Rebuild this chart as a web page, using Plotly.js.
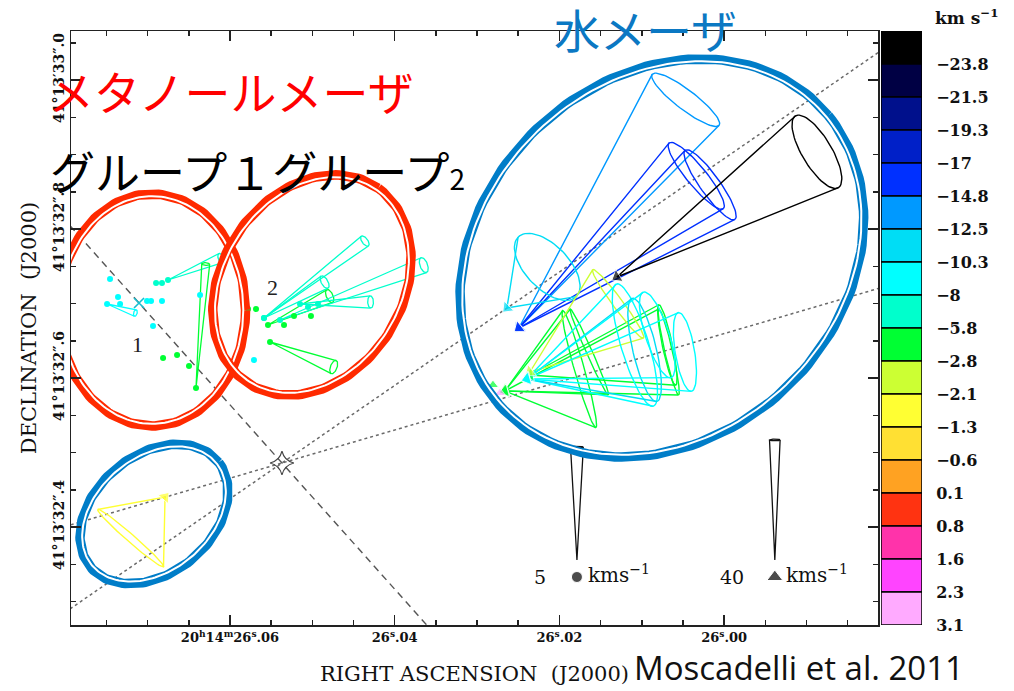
<!DOCTYPE html>
<html>
<head>
<meta charset="utf-8">
<script src="https://cdn.plot.ly/plotly-3.0.1.min.js"></script>
<style>
  html, body { margin: 0; padding: 0; background: #fff; }
  #chart { width: 1014px; height: 691px; }
</style>
</head>
<body>
<div id="chart"></div>
<script>
// ---- LSR velocity bins (km/s): lower edge label of each colour band, top band first ----
const vlsrEdges  = [-23.8, -21.5, -19.3, -17, -14.8, -12.5, -10.3, -8, -5.8, -2.8, -2.1, -1.3, -0.6, 0.1, 0.8, 1.6, 2.3, 3.1];
const vlsrLabels = ['−23.8', '−21.5', '−19.3', '−17', '−14.8', '−12.5', '−10.3', '−8', '−5.8', '−2.8', '−2.1', '−1.3', '−0.6', '0.1', '0.8', '1.6', '2.3', '3.1'];
const vlsrColors = ['#000000', '#000044', '#00108c', '#0020c8', '#0030ff', '#0099ff', '#00ddf5', '#00ffff', '#00ffcc', '#00ff33',
                    '#ccff33', '#ffff33', '#ffe033', '#ffa222', '#ff3311', '#ff33aa', '#ff44ff', '#ffaaff'];

// ---- axis ticks ----
const raTicks   = [26.06, 26.04, 26.02, 26.00];
const raLabels  = ['20<sup>h</sup>14<sup>m</sup>26<sup>s</sup>.06', '26<sup>s</sup>.04', '26<sup>s</sup>.02', '26<sup>s</sup>.00'];
const decTicks  = [32.4, 32.6, 32.8, 33.0];
const decLabels = ['41°13′32″.4', '41°13′32″.6', '41°13′32″.8', '41°13′33″.0'];

// ---- CH3OH maser spots: RA (s, 20h14m), Dec (arcsec, +41°13'), Vlsr, proper motion (km/s), cone base radius / depth (km/s) ----
const chRA   = [26.07457, 26.07360, 26.07493, 26.07335, 26.07008, 26.06959, 26.06826, 26.06935, 26.06898, 26.06826, 26.06753, 26.06364,
                26.06813, 26.06643, 26.06498, 26.06413,
                26.05781, 26.05684, 26.05539, 26.05344, 26.05223, 26.05017, 26.05514, 26.05587, 26.05587, 26.05393, 26.05150, 26.05053, 26.04932, 26.05709];
const chDec  = [32.73288, 32.70872, 32.69933, 32.69933, 32.70335, 32.70335, 32.70335, 32.66980, 32.72752, 32.72752, 32.73154, 32.71141,
                32.62684, 32.63087, 32.61610, 32.58657,
                32.69262, 32.69262, 32.67114, 32.67114, 32.68322, 32.68322, 32.64832, 32.68054, 32.68054, 32.67785, 32.69933, 32.69530, 32.69933, 32.62416];
const chVlsr = [-8.6, -8.6, -8.9, -8.7, -8.4, -8.4, -8.5, -8.8, -7.2, -7.2, -7.1, -8.5,
                -4.2, -4.4, -4.1, -3.9,
                -4.5, -4.3, -4.0, -4.6, -4.2, -4.4, -3.8, -7.0, -6.9, -6.8, -7.1, -7.3, -7.0, -8.6];
const chVE   = [0, 0, -1.28, 0, 0, 0, 0, 0, 0, 0, -2.39, 0,
                0, 0, 0, -0.44,
                0, 0, -2.79, 0, 0, 0, -2.88, -4.56, -2.74, -6.50, -3.19, 0, 0, 0];
const chVN   = [0, 0, -0.40, 0, 0, 0, 0, 0, 0, 0, 0.97, 0,
                0, 0, 0, 5.49,
                0, 0, 1.28, 0, 0, 0, -1.11, 3.41, 1.59, 2.43, 0.09, 0, 0, 0];
const chBaseR = [0, 0, 0.15, 0, 0, 0, 0, 0, 0, 0, 0.22, 0,
                 0, 0, 0, 0.18,
                 0, 0, 0.31, 0, 0, 0, 0.31, 0.27, 0.31, 0.35, 0.27, 0, 0, 0];
const chBaseW = [0, 0, 0.08, 0, 0, 0, 0, 0, 0, 0, 0.12, 0,
                 0, 0, 0, 0.06,
                 0, 0, 0.15, 0, 0, 0, 0.15, 0.13, 0.15, 0.17, 0.13, 0, 0, 0];

// ---- H2O maser spots ----
const wRA   = [26.02492, 26.02492, 26.02492, 26.01302, 26.02637, 26.02662, 26.02662, 26.02662, 26.02358, 26.02358,
               26.02394, 26.02394, 26.02394, 26.02394, 26.02807, 26.02722, 26.06789];
const wDec  = [32.66711, 32.66711, 32.66711, 32.73557, 32.69396, 32.58255, 32.58255, 32.58255, 32.60402, 32.60805,
               32.59865, 32.59865, 32.59865, 32.59865, 32.59060, 32.57986, 32.44026];
const wVlsr = [-13.5, -16.0, -15.2, -25.5, -11.2, -4.0, -3.6, -4.5, -3.2, -2.5,
               -9.0, -10.6, -9.2, -8.6, -4.2, 2.8, -1.7];
const wVE   = [-56.7, -60.3, -65.0, -68.0, -13.7, -25.3, -28.7, -55.7, -46.7, -30.0,
               -36.7, -40.0, -53.7, -44.3, 0, 0, 11.7];
const wVN   = [76.0, 50.7, 47.7, 41.7, 13.7, 7.3, 13.0, 13.0, 10.0, 22.7,
               11.3, 9.7, 9.0, 14.7, 0, 0, -13.7];
const wBaseR = [14.2, 14.3, 14.3, 14.0, 14.0, 20.3, 15.7, 14.7, 13.7, 14.3,
                21.3, 17.7, 13.3, 15.0, 0, 0, 14.7];
const wBaseW = [3.3, 3.3, 3.3, 5.0, 7.3, 1.7, 1.0, 1.3, 1.7, 1.7,
                4.7, 4.0, 3.3, 4.0, 0, 0, 1.3];

// ---- reference positions and directions ----
const starPos  = [26.05369, 32.48590];   // YSO position (four-pointed star)
const crossPos = [26.07105, 32.70067];   // continuum peak (cross)
const dottedPA = [304, 286];             // position angles (deg) of the dotted lines through the star

// ---- velocity scale legend ----
const scaleSpeed  = [5, 40];
const scaleName   = ['5', '40'];
const scaleSymbol = ['circle', 'triangle-up'];

// ---- group outlines: centre, outer semi-axes (mas), tilt (deg) ----
const ringRA    = [26.06947, 26.05005, 26.00756, 26.06923];
const ringDec   = [32.69127, 32.72483, 32.76107, 32.41744];
const ringA     = [134.5, 164.9, 304.0, 118.9];
const ringB     = [162.2, 129.7, 250.0, 86.5];
const ringTilt  = [0, 55, 40, 38];
const ringColor = ['#ff2a00', '#ff2a00', '#007dc8', '#007dc8'];

// ---- geometry helpers ----
const DEC_DEG = 41 + 13 / 60 + 32.7 / 3600;
const MAS_PER_SEC = 15000 * Math.cos(DEC_DEG * Math.PI / 180);
const CH_SCALE = 30.3;    // mas per km/s for CH3OH cones
const H2O_SCALE = 4.03;   // mas per km/s for H2O cones
const PX_PER_MAS = 0.74;

function shift(ra, dec, e, n) { return [ra + e / MAS_PER_SEC, dec + n / 1000]; }

function vColor(v) {
  let i = 0;
  vlsrEdges.forEach(e => { if (e < v) i++; });
  return vlsrColors[Math.min(i, vlsrColors.length - 1)];
}

function coneTrace(ra0, dec0, vE, vN, r, w, scale, color, width) {
  const L = Math.hypot(vE, vN), ue = vE / L, un = vN / L, pe = -un, pn = ue;
  const cE = vE * scale, cN = vN * scale, R = r * scale, W = w * scale;
  const xs = [], ys = [];
  const put = (e, n) => { const p = shift(ra0, dec0, e, n); xs.push(p[0]); ys.push(p[1]); };
  put(cE + R * pe, cN + R * pn); put(0, 0); put(cE - R * pe, cN - R * pn);
  xs.push(null); ys.push(null);
  for (let k = 0; k <= 72; k++) {
    const t = 2 * Math.PI * k / 72, c = Math.cos(t), s = Math.sin(t);
    put(cE + R * c * pe + W * s * ue, cN + R * c * pn + W * s * un);
  }
  return { type: 'scatter', mode: 'lines', x: xs, y: ys, line: { color: color, width: width },
           hoverinfo: 'skip', cliponaxis: true };
}

function ringTrace(ra0, dec0, a, b, tilt, color, width) {
  const th = tilt * Math.PI / 180, xs = [], ys = [];
  for (let k = 0; k <= 180; k++) {
    const t = 2 * Math.PI * k / 180;
    const X = a * Math.cos(t) * Math.cos(th) - b * Math.sin(t) * Math.sin(th);
    const Y = a * Math.cos(t) * Math.sin(th) + b * Math.sin(t) * Math.cos(th);
    const p = shift(ra0, dec0, -X, Y);
    xs.push(p[0]); ys.push(p[1]);
  }
  return { type: 'scatter', mode: 'lines', x: xs, y: ys, line: { color: color, width: width }, hoverinfo: 'skip' };
}

function lineThrough(p, e, n, len) {
  const a = shift(p[0], p[1], -e * len, -n * len), b = shift(p[0], p[1], e * len, n * len);
  return [[a[0], b[0]], [a[1], b[1]]];
}

const traces = [];

// dotted reference lines through the star
dottedPA.forEach(pa => {
  const r = pa * Math.PI / 180;
  const l = lineThrough(starPos, Math.sin(r), Math.cos(r), 2000);
  traces.push({ type: 'scatter', mode: 'lines', x: l[0], y: l[1],
                line: { color: '#6a6a6a', width: 1.5, dash: 'dot' }, hoverinfo: 'skip' });
});

// dashed line through the cross and the star
{
  const dx = (starPos[0] - crossPos[0]), dy = (starPos[1] - crossPos[1]);
  const xs = [crossPos[0] - 3 * dx, starPos[0] + 3 * dx], ys = [crossPos[1] - 3 * dy, starPos[1] + 3 * dy];
  traces.push({ type: 'scatter', mode: 'lines', x: xs, y: ys,
                line: { color: '#555', width: 1.4, dash: '7px,5px' }, hoverinfo: 'skip' });
}

// H2O cones
wRA.forEach((ra, i) => {
  if (wVE[i] === 0 && wVN[i] === 0) return;
  traces.push(coneTrace(ra, wDec[i], wVE[i], wVN[i], wBaseR[i], wBaseW[i], H2O_SCALE, vColor(wVlsr[i]), 1.4));
});

// CH3OH cones
chRA.forEach((ra, i) => {
  if (chVE[i] === 0 && chVN[i] === 0) return;
  traces.push(coneTrace(ra, chDec[i], chVE[i], chVN[i], chBaseR[i], chBaseW[i], CH_SCALE, vColor(chVlsr[i]), 1.3));
});

// CH3OH spots
traces.push({ type: 'scatter', mode: 'markers', x: chRA, y: chDec,
              marker: { symbol: 'circle', size: 6, color: chVlsr.map(vColor) }, hoverinfo: 'skip' });

// H2O spots (arrowheads oriented toward the cone apex)
traces.push({ type: 'scatter', mode: 'markers', x: wRA, y: wDec,
              marker: { symbol: 'triangle-up', size: wRA.map((_, i) => (wVE[i] || wVN[i]) ? 12 : 10),
                        color: wVlsr.map(vColor),
                        angle: wRA.map((_, i) => (wVE[i] || wVN[i]) ? Math.atan2(wVE[i], -wVN[i]) * 180 / Math.PI : 0) },
              hoverinfo: 'skip' });

// cross and star
traces.push({ type: 'scatter', mode: 'markers', x: [crossPos[0]], y: [crossPos[1]],
              marker: { symbol: 'x-thin-open', size: 10, line: { color: '#222', width: 1.6 } }, hoverinfo: 'skip' });
traces.push({ type: 'scatter', mode: 'markers', x: [starPos[0]], y: [starPos[1]],
              marker: { symbol: 'star-diamond-open', size: 17, color: '#444', line: { color: '#444', width: 1.2 } }, hoverinfo: 'skip' });

// velocity scale cones
const scaleRA = [26.01787, 25.99384], scaleApexDec = 32.3557, scaleMarkDec = 32.33288;
const scaleR = [0.29, 1.8], scaleW = [0.04, 0.3], scaleMasPerKms = [CH_SCALE, H2O_SCALE];
scaleSpeed.forEach((v, i) => {
  traces.push(coneTrace(scaleRA[i], scaleApexDec, 0, v, scaleR[i], scaleW[i], scaleMasPerKms[i], '#111', 1.3));
});
traces.push({ type: 'scatter', mode: 'markers', x: scaleRA, y: [scaleMarkDec, scaleMarkDec],
              marker: { symbol: scaleSymbol, size: [11, 14], color: '#000' }, hoverinfo: 'skip' });

// group outlines: thick band, white gap, thin inner line
ringRA.forEach((ra, i) => {
  const o1 = 4.75 / PX_PER_MAS, o2 = 7 / PX_PER_MAS;
  traces.push(ringTrace(ra, ringDec[i], ringA[i] - o1, ringB[i] - o1, ringTilt[i], ringColor[i], 9.5));
  traces.push(ringTrace(ra, ringDec[i], ringA[i] - o2, ringB[i] - o2, ringTilt[i], '#ffffff', 2));
});

// colour bar
traces.push({ type: 'bar', xaxis: 'x2', yaxis: 'y2', x: vlsrColors.map(() => 0), y: vlsrColors.map(() => 1),
              base: vlsrColors.map((_, i) => vlsrColors.length - 1 - i), width: 1,
              marker: { color: vlsrColors, line: { color: '#000', width: 1.5 } }, hoverinfo: 'skip' });

const serif = 'DejaVu Serif, Liberation Serif, serif';
const cjk = 'Noto Sans CJK JP, sans-serif';
const px2x = px => (px - 71) / 923;
const py2y = py => (625 - py) / 594;

const annotations = [
  { text: 'メタノールメーザ', x: px2x(231), y: py2y(90), xref: 'paper', yref: 'paper', showarrow: false,
    xanchor: 'center', yanchor: 'middle', font: { family: cjk, size: 46, color: '#ff0000' } },
  { text: 'グループ１グループ<span style="font-size:28px">2</span>', x: px2x(48), y: py2y(170), xref: 'paper', yref: 'paper',
    showarrow: false, xanchor: 'left', yanchor: 'middle', font: { family: cjk, size: 45, color: '#000' } },
  { text: '水メーザ', x: px2x(645), y: py2y(28), xref: 'paper', yref: 'paper', showarrow: false,
    xanchor: 'center', yanchor: 'middle', font: { family: cjk, size: 46, color: '#0b78c3' } },
  { text: 'Moscadelli et al. 2011', x: px2x(632), y: py2y(667), xref: 'paper', yref: 'paper', showarrow: false,
    xanchor: 'left', yanchor: 'middle', font: { family: 'Open Sans, sans-serif', size: 33, color: '#111' } },
  { text: '<b>km s<sup>−1</sup></b>', x: px2x(967), y: py2y(17), xref: 'paper', yref: 'paper', showarrow: false,
    xanchor: 'center', yanchor: 'middle', font: { family: serif, size: 17, color: '#111' } },
  { text: '<b>V<sub>LSR</sub></b>', x: px2x(972), y: py2y(4), xref: 'paper', yref: 'paper', showarrow: false,
    xanchor: 'center', yanchor: 'bottom', font: { family: serif, size: 15, color: '#111' } },
  { text: '1', x: 26.07129, y: 32.64564, xref: 'x', yref: 'y', showarrow: false,
    font: { family: 'Liberation Serif, serif', size: 22, color: '#222' } },
  { text: '2', x: 26.05490, y: 32.72215, xref: 'x', yref: 'y', showarrow: false,
    font: { family: 'Liberation Serif, serif', size: 22, color: '#222' } }
];
scaleSpeed.forEach((v, i) => {
  annotations.push({ text: scaleName[i], x: scaleRA[i], y: scaleMarkDec, xref: 'x', yref: 'y', showarrow: false,
                     xanchor: 'right', xshift: -29, font: { family: serif, size: 19, color: '#111' } });
  annotations.push({ text: 'kms<sup>−1</sup>', x: scaleRA[i], y: scaleMarkDec, xref: 'x', yref: 'y', showarrow: false,
                     xanchor: 'left', xshift: 9, yshift: 3, font: { family: serif, size: 20, color: '#111' } });
});

const axisCommon = {
  ticks: 'inside', ticklen: 10, tickwidth: 1.5, tickcolor: '#222',
  showline: true, linecolor: '#222', linewidth: 1.5, mirror: 'ticks',
  showgrid: false, zeroline: false,
  tickfont: { family: serif, size: 13, color: '#111', weight: 'bold' }
};

const layout = {
  width: 1014, height: 691,
  margin: { l: 71, r: 20, t: 31, b: 66 },
  paper_bgcolor: '#fff', plot_bgcolor: '#fff',
  showlegend: false, hovermode: false, barmode: 'overlay',
  xaxis: Object.assign({}, axisCommon, {
    domain: [0, 807 / 923], range: [26.07931, 25.98131],
    tickvals: raTicks, ticktext: raLabels,
    minor: { dtick: 0.005, tick0: 26.0, ticks: 'inside', ticklen: 5, tickwidth: 1.5, tickcolor: '#222' },
    title: { text: 'RIGHT ASCENSION\u00a0\u00a0(J2000)', font: { family: serif, size: 21, color: '#111' }, standoff: 22 }
  }),
  yaxis: Object.assign({}, axisCommon, {
    domain: [0, 1], range: [32.26845, 33.06578],
    tickvals: decTicks, ticktext: decLabels, tickangle: -90, tickfont: { family: serif, size: 14, color: '#111', weight: 'bold' },
    minor: { dtick: 0.05, tick0: 32.4, ticks: 'inside', ticklen: 5, tickwidth: 1.5, tickcolor: '#222' },
    title: { text: 'DECLINATION\u00a0\u00a0(J2000)', font: { family: serif, size: 21, color: '#111' }, standoff: 8 }
  }),
  xaxis2: { domain: [810 / 923, 851 / 923], range: [-0.5, 0.5], visible: false, anchor: 'y2', fixedrange: true },
  yaxis2: { domain: [0, 1], range: [0, vlsrColors.length], anchor: 'x2', side: 'right',
            tickvals: vlsrColors.map((_, i) => vlsrColors.length - 1 - i), ticktext: vlsrLabels,
            showgrid: false, zeroline: false, showline: false,
            ticks: 'outside', ticklen: 10, tickcolor: 'rgba(0,0,0,0)',
            tickfont: { family: serif, size: 16, color: '#111', weight: 'bold' } },
  annotations: annotations
};

Plotly.newPlot('chart', traces, layout, { displayModeBar: false, staticPlot: true });
</script>
</body>
</html>
